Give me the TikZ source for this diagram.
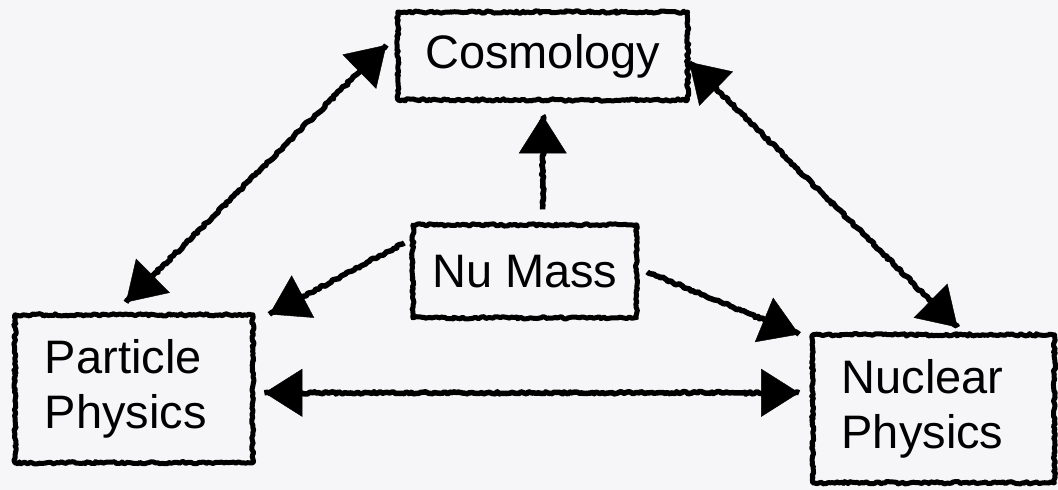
\documentclass[tikz,border=0pt]{standalone}
\usepackage{fontspec}
\setmainfont{Liberation Sans}
\usetikzlibrary{arrows.meta,decorations.pathmorphing,calc}
\definecolor{bg}{RGB}{246,246,248}
\begin{document}
\begin{tikzpicture}[x=1pt,y=-1pt,
  >={Triangle[length=38pt,width=48pt]},
  sketchy/.style={decorate,decoration={random steps,segment length=2.2pt,amplitude=1.2pt}},
  box/.style={draw=black,line width=5pt,sketchy,inner sep=0pt,line join=round,
    font=\fontsize{47}{55}\selectfont},
  thickline/.style={draw=black,arrows=-,line width=5.5pt,line cap=butt,line join=round,
    decorate,decoration={random steps,segment length=2.5pt,amplitude=1.2pt}},
  conn/.style={line width=0.4pt,postaction={thickline}}
]
\pgfmathsetseed{42}
\fill[bg] (0,0) rectangle (1058,490);

\node[box,minimum width=290pt,minimum height=88pt] (cosmo) at (543,56) {Cosmology};
\node[box,minimum width=238pt,minimum height=148pt,text width=178pt,inner xsep=30pt,align=left] (particle) at (134,389) {Particle\\Physics};
\node[box,minimum width=242pt,minimum height=148pt,text width=184pt,inner xsep=29pt,align=left] (nuclear) at (934,409) {Nuclear\\Physics};
\node[box,minimum width=224pt,minimum height=93pt] (nu) at (525,271.5) {Nu Mass};

\draw[conn,<->] ($(cosmo.west)+(-9,-11)$) -- ($(particle.north)+(-8,-10)$);
\draw[conn,<->] ($(cosmo.east)+(-1,6)$) -- ($(nuclear.north)+(24,-5)$);
\draw[conn,->] ($(nu.north)+(18,-13)$) -- ($(cosmo.south)+(0,13)$);
\draw[conn,->] ($(nu.west)+(-6,-28.5)$) -- ($(particle.north east)+(14,2)$);
\draw[conn,->] ($(nu.east)+(8,0.5)$) -- ($(nuclear.north west)+(-11,2)$);
\draw[conn,<->] ($(particle.east)+(9,4)$) -- ($(nuclear.west)+(-11,-16)$);
\end{tikzpicture}
\end{document}
